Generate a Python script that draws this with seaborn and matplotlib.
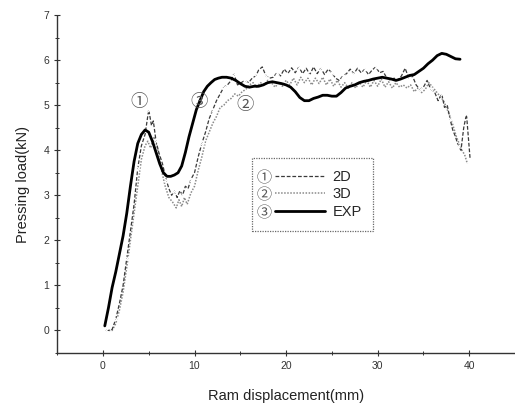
import numpy as np
import pandas as pd
import matplotlib
matplotlib.use('Agg')
import matplotlib.pyplot as plt
import seaborn as sns
from matplotlib.lines import Line2D
from matplotlib.path import Path
from matplotlib.legend_handler import HandlerLine2DCompound
from matplotlib.textpath import TextPath
from matplotlib.font_manager import FontProperties
from matplotlib.ticker import MultipleLocator

# ── Data ─────────────────────────────────────────────────────────────
x_2d = [0.3, 0.6, 1.0, 1.4, 1.8, 2.2, 2.6, 3.0, 3.4, 3.8, 4.2, 4.6, 5.0, 5.3, 5.5,
        5.8, 6.1, 6.5, 6.9, 7.2, 7.5, 7.8, 8.1, 8.4, 8.7, 9.0, 9.3, 9.6, 10.0, 10.4,
        10.8, 11.2, 11.6, 12.0, 12.4, 12.8, 13.2, 13.6, 14.0, 14.3, 14.7, 15.1, 15.5,
        15.9, 16.3, 16.7, 17.0, 17.4, 17.8, 18.2, 18.6, 19.0, 19.4, 19.8, 20.2, 20.6,
        21.0, 21.4, 21.8, 22.2, 22.6, 23.0, 23.4, 23.8, 24.2, 24.6, 25.0, 25.4, 25.8,
        26.2, 26.6, 27.0, 27.4, 27.8, 28.2, 28.6, 29.0, 29.4, 29.8, 30.2, 30.6, 31.0,
        31.4, 31.8, 32.2, 32.6, 33.0, 33.4, 33.8, 34.2, 34.6, 35.0, 35.4, 35.8, 36.2,
        36.6, 37.0, 37.3, 37.6, 37.9, 38.2, 38.5, 38.8, 39.1, 39.4, 39.7, 39.9, 40.1]
y_2d = [0.0, 0.0, 0.02, 0.25, 0.6, 1.0, 1.6, 2.2, 2.8, 3.6, 4.1, 4.35, 4.9, 4.55, 4.65,
        4.2, 3.95, 3.7, 3.35, 3.15, 3.0, 3.1, 2.95, 3.1, 3.0, 3.2, 3.15, 3.35, 3.5, 3.85,
        4.15, 4.4, 4.7, 4.9, 5.1, 5.25, 5.4, 5.45, 5.55, 5.7, 5.45, 5.5, 5.55,
        5.5, 5.6, 5.65, 5.78, 5.85, 5.65, 5.6, 5.62, 5.72, 5.65, 5.8, 5.7, 5.83,
        5.72, 5.85, 5.7, 5.82, 5.68, 5.85, 5.7, 5.82, 5.68, 5.8, 5.72, 5.6, 5.55,
        5.65, 5.7, 5.8, 5.7, 5.82, 5.72, 5.8, 5.68, 5.78, 5.85, 5.72, 5.75, 5.6,
        5.55, 5.6, 5.55, 5.65, 5.82, 5.6, 5.65, 5.45, 5.35, 5.4, 5.55, 5.35, 5.3,
        5.1, 5.25, 4.95, 5.0, 4.7, 4.45, 4.3, 4.1, 4.0, 4.5, 4.8, 4.3, 3.8]

x_3d = [0.3, 0.6, 1.0, 1.4, 1.8, 2.2, 2.6, 3.0, 3.4, 3.8, 4.2, 4.6, 4.9, 5.2, 5.6,
        6.0, 6.4, 6.8, 7.2, 7.6, 8.0, 8.3, 8.6, 8.9, 9.2, 9.6, 10.0, 10.4, 10.8, 11.2,
        11.6, 12.0, 12.4, 12.8, 13.2, 13.6, 14.0, 14.4, 14.8, 15.2, 15.6, 16.0, 16.4,
        16.8, 17.2, 17.6, 18.0, 18.4, 18.8, 19.2, 19.6, 20.0, 20.4, 20.8, 21.2, 21.6,
        22.0, 22.4, 22.8, 23.2, 23.6, 24.0, 24.4, 24.8, 25.2, 25.6, 26.0, 26.4, 26.8,
        27.2, 27.6, 28.0, 28.4, 28.8, 29.2, 29.6, 30.0, 30.4, 30.8, 31.2, 31.6, 32.0,
        32.4, 32.8, 33.2, 33.6, 34.0, 34.4, 34.8, 35.2, 35.6, 36.0, 36.4, 36.8, 37.2,
        37.6, 38.0, 38.3, 38.6, 38.9, 39.2, 39.5, 39.8]
y_3d = [0.0, 0.0, 0.0, 0.15, 0.45, 0.85, 1.4, 2.0, 2.6, 3.2, 3.8, 4.1, 4.2, 4.05, 4.3,
        4.0, 3.55, 3.2, 2.95, 2.85, 2.72, 2.9, 2.75, 2.95, 2.8, 3.05, 3.2, 3.55, 3.85, 4.2,
        4.4, 4.6, 4.75, 4.95, 5.0, 5.1, 5.15, 5.25, 5.2, 5.3, 5.35, 5.45, 5.5,
        5.4, 5.5, 5.45, 5.55, 5.5, 5.4, 5.5, 5.42, 5.55, 5.45, 5.6, 5.45, 5.62,
        5.5, 5.6, 5.45, 5.6, 5.48, 5.62, 5.45, 5.58, 5.42, 5.55, 5.4, 5.5, 5.38,
        5.5, 5.38, 5.5, 5.4, 5.55, 5.4, 5.55, 5.42, 5.58, 5.4, 5.52, 5.38, 5.5,
        5.4, 5.45, 5.38, 5.45, 5.3, 5.38, 5.28, 5.35, 5.5, 5.4, 5.3, 5.2, 5.1,
        4.9, 4.7, 4.5, 4.3, 4.15, 4.0, 3.9, 3.7]

x_exp = [0.2, 0.6, 1.0, 1.4, 1.8, 2.2, 2.6, 3.0, 3.4, 3.8, 4.2, 4.6, 5.0, 5.4, 5.8,
         6.2, 6.6, 7.0, 7.4, 7.8, 8.2, 8.6, 9.0, 9.4, 9.8, 10.2, 10.6, 11.0, 11.4, 11.8,
         12.2, 12.6, 13.0, 13.5, 14.0, 14.5, 15.0, 15.5, 16.0, 16.5, 17.0, 17.5, 18.0,
         18.5, 19.0, 19.5, 20.0, 20.5, 21.0, 21.5, 22.0, 22.5, 23.0, 23.5, 24.0, 24.5,
         25.0, 25.5, 26.0, 26.5, 27.0, 27.5, 28.0, 28.5, 29.0, 29.5, 30.0, 30.5, 31.0,
         31.5, 32.0, 32.5, 33.0, 33.5, 34.0, 34.5, 35.0, 35.5, 36.0, 36.5, 37.0, 37.5,
         38.0, 38.5, 39.0]
y_exp = [0.1, 0.5, 0.95, 1.3, 1.7, 2.1, 2.6, 3.2, 3.75, 4.15, 4.35, 4.45, 4.4, 4.2, 3.95,
         3.7, 3.5, 3.42, 3.42, 3.45, 3.5, 3.65, 3.95, 4.3, 4.6, 4.9, 5.1, 5.3, 5.42, 5.5,
         5.57, 5.6, 5.62, 5.62, 5.6, 5.55, 5.48, 5.42, 5.4, 5.42, 5.42, 5.45, 5.5,
         5.52, 5.5, 5.48, 5.45, 5.4, 5.3, 5.17, 5.1, 5.1, 5.15, 5.18, 5.22, 5.22,
         5.2, 5.2, 5.28, 5.38, 5.42, 5.45, 5.5, 5.53, 5.55, 5.58, 5.6, 5.62, 5.6,
         5.58, 5.55, 5.58, 5.62, 5.66, 5.68, 5.75, 5.82, 5.92, 6.0, 6.1, 6.15, 6.13,
         6.08, 6.03, 6.02]

series_labels = ['2D', '3D', 'EXP']
circled = ['\u2460', '\u2461', '\u2462']
note_x = [3.9, 15.55, 10.5]
note_y = [5.07, 5.0, 5.07]

# ── Style ─────────────────────────────────────────────────────────────
sns.set_style('ticks')
plt.rcParams['font.family'] = ['Liberation Sans', 'Noto Sans CJK SC', 'DejaVu Sans']

fig = plt.figure(figsize=(5.15, 4.08), dpi=100)
ax = fig.add_axes([0.111, 0.135, 0.889, 0.828])

df_2d = pd.DataFrame({'x': x_2d, 'y': y_2d})
df_3d = pd.DataFrame({'x': x_3d, 'y': y_3d})
df_exp = pd.DataFrame({'x': x_exp, 'y': y_exp})

sns.lineplot(data=df_3d, x='x', y='y', ax=ax, estimator=None, sort=False,
             color='#8a8a8a', linestyle=(0, (1, 1)), linewidth=1.1)
sns.lineplot(data=df_2d, x='x', y='y', ax=ax, estimator=None, sort=False,
             color='#3a3a3a', linestyle=(0, (3, 1.5)), linewidth=0.9,
             marker='x', markersize=3, markeredgewidth=0.8, markevery=3)
sns.lineplot(data=df_exp, x='x', y='y', ax=ax, estimator=None, sort=False,
             color='black', linewidth=2.0)

# circled curve markers
for t, xx, yy in zip(circled, note_x, note_y):
    ax.text(xx, yy, t, fontsize=12.5, color='#555555', ha='center', va='center',
            family=['Noto Sans CJK SC', 'DejaVu Sans'])

# ── Axes ──────────────────────────────────────────────────────────────
ax.set_xlim(-5, 45)
ax.set_ylim(-0.5, 7)
ax.xaxis.set_major_locator(MultipleLocator(10))
ax.xaxis.set_minor_locator(MultipleLocator(5))
ax.yaxis.set_major_locator(MultipleLocator(1))
ax.yaxis.set_minor_locator(MultipleLocator(0.5))
ax.set_xticks([0, 10, 20, 30, 40])
ax.tick_params(axis='both', which='major', labelsize=7.5, colors='#333333',
               length=4, width=0.8, direction='inout')
ax.tick_params(axis='both', which='minor', length=2.5, width=0.7,
               direction='inout', colors='#333333')
ax.set_xlabel('Ram displacement(mm)', fontsize=10.5, color='#222222', labelpad=13)
ax.set_ylabel('Pressing load(kN)', fontsize=10.5, color='#222222', labelpad=10)
sns.despine(ax=ax)
for side in ['left', 'bottom']:
    ax.spines[side].set_linestyle((0, (1, 1)))
    ax.spines[side].set_linewidth(1.0)
    ax.spines[side].set_color('#333333')


# ── Legend with circled numbers ahead of the lines ───────────────────
def circled_marker(ch):
    tp = TextPath((0, 0), ch, prop=FontProperties(family='Noto Sans CJK SC'))
    v = tp.vertices.copy()
    ext = tp.get_extents()
    v[:, 0] -= (ext.x0 + ext.x1) / 2
    v[:, 1] -= (ext.y0 + ext.y1) / 2
    return Path(v, tp.codes)


class MarkFirst(HandlerLine2DCompound):
    def get_xdata(self, legend, xdescent, ydescent, width, height, fontsize):
        xdata, _ = super().get_xdata(legend, xdescent, ydescent, width, height, fontsize)
        return np.array([xdata[0] + 0.75 * fontsize, xdata[-1]]), np.array([xdata[0]])


handles = [
    Line2D([], [], color='#3a3a3a', linestyle=(0, (3, 1.5)), linewidth=0.9,
           marker=circled_marker(circled[0]), markersize=11, markeredgewidth=0,
           markerfacecolor='#555555'),
    Line2D([], [], color='#8a8a8a', linestyle=(0, (1, 1)), linewidth=1.1,
           marker=circled_marker(circled[1]), markersize=11, markeredgewidth=0,
           markerfacecolor='#555555'),
    Line2D([], [], color='black', linewidth=2.0,
           marker=circled_marker(circled[2]), markersize=11, markeredgewidth=0,
           markerfacecolor='#555555'),
]
leg = ax.legend(handles, series_labels, loc='upper left', bbox_to_anchor=(0.426, 0.577),
                borderaxespad=0, fontsize=10.5, handlelength=4.2, handletextpad=0.5,
                labelspacing=0.25, borderpad=0.8, fancybox=False,
                handler_map={Line2D: MarkFirst(numpoints=1)})
leg.get_frame().set_edgecolor('#444444')
leg.get_frame().set_linestyle((0, (1, 1)))
leg.get_frame().set_linewidth(0.9)

plt.savefig('out.png', dpi=100)
